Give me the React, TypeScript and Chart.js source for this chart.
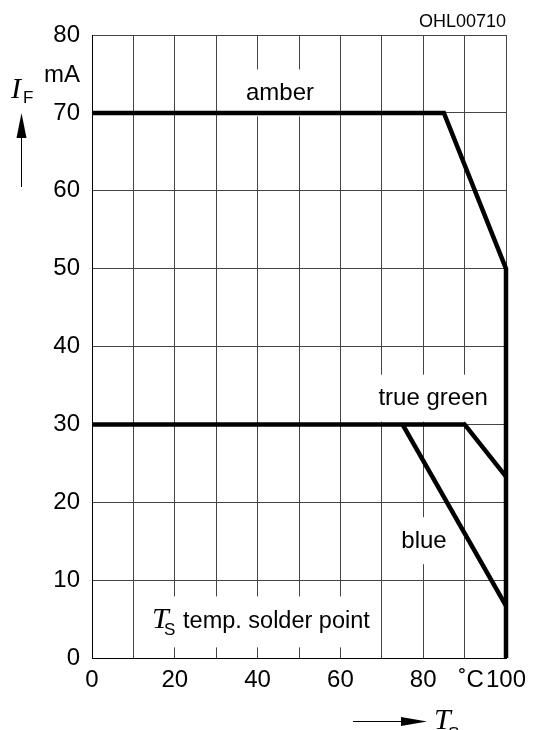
import React, { useEffect, useRef } from 'react';
import { Chart, registerables } from 'chart.js';

Chart.register(...registerables);

// ---- data ----
const amberX = [0, 85, 100, 100];
const amberY = [70, 70, 50, 0];
const greenX = [0, 90, 100];
const greenY = [30, 30, 23.3];
const blueX = [75, 100];
const blueY = [30, 6.7];

const seriesNames = ['amber', 'true green', 'blue'];
const seriesLabelX = [45.4, 82.4, 80.2];
const seriesLabelY = [72.5, 33.3, 15.0];

const xLabelValues = [0, 20, 40, 60, 80, 90, 100];
const xLabelTexts = ['0', '20', '40', '60', '80', '  ˚C', '100'];
const yLabelValues = [0, 10, 20, 30, 40, 50, 60, 70, 80];

const chartCode = 'OHL00710';
const yUnit = 'mA';
const xAxisNote = 'temp. solder point';

const SANS = '"Liberation Sans", Arial, sans-serif';
const SERIF = '"Liberation Serif", "Times New Roman", serif';

const toPoints = (xs: number[], ys: number[]) => xs.map((x, i) => ({ x, y: ys[i] }));

export default function App() {
  const ref = useRef<HTMLCanvasElement | null>(null);

  useEffect(() => {
    if (!ref.current) return;

    const labelsPlugin = {
      id: 'labelsPlugin',
      beforeDatasetsDraw(chart: any) {
        const ctx = chart.ctx as CanvasRenderingContext2D;
        const xs = chart.scales.x;
        const ys = chart.scales.y;
        ctx.save();
        ctx.font = `24px ${SANS}`;
        ctx.textBaseline = 'middle';
        ctx.textAlign = 'center';
        seriesNames.forEach((name, i) => {
          const cx = xs.getPixelForValue(seriesLabelX[i]);
          const cy = ys.getPixelForValue(seriesLabelY[i]);
          const w = ctx.measureText(name).width;
          ctx.fillStyle = '#fff';
          ctx.fillRect(cx - w / 2 - 10, cy - 24, w + 20, 47);
          ctx.fillStyle = '#000';
          ctx.fillText(name, cx, cy);
        });
        // T_S temp. solder point
        const tx = xs.getPixelForValue(14.5);
        const ty = ys.getPixelForValue(3.8);
        ctx.textAlign = 'left';
        ctx.textBaseline = 'alphabetic';
        ctx.font = `23.5px ${SANS}`;
        const noteW = ctx.measureText(xAxisNote).width;
        ctx.fillStyle = '#fff';
        ctx.fillRect(tx - 10, ty - 32, 31 + noteW + 13, 51);
        ctx.fillStyle = '#000';
        ctx.font = `italic 30px ${SERIF}`;
        ctx.fillText('T', tx, ty);
        ctx.font = `17px ${SANS}`;
        ctx.fillText('S', tx + 12, ty + 7);
        ctx.font = `23.5px ${SANS}`;
        ctx.fillText(xAxisNote, tx + 31, ty);
        ctx.restore();
      },
      afterDraw(chart: any) {
        const ctx = chart.ctx as CanvasRenderingContext2D;
        const area = chart.chartArea;
        ctx.save();
        ctx.fillStyle = '#000';
        ctx.strokeStyle = '#000';
        ctx.textBaseline = 'alphabetic';
        // code
        ctx.font = `18px ${SANS}`;
        ctx.textAlign = 'right';
        ctx.fillText(chartCode, area.right, 27);
        // unit
        ctx.font = `24px ${SANS}`;
        ctx.fillText(yUnit, 80, 82);
        // I_F
        ctx.textAlign = 'left';
        ctx.font = `italic 30px ${SERIF}`;
        ctx.fillText('I', 11, 98);
        ctx.font = `17px ${SANS}`;
        ctx.fillText('F', 23, 103);
        // vertical arrow
        ctx.lineWidth = 1;
        ctx.beginPath();
        ctx.moveTo(21.5, 187);
        ctx.lineTo(21.5, 130);
        ctx.stroke();
        ctx.beginPath();
        ctx.moveTo(21.5, 113);
        ctx.lineTo(16.5, 138);
        ctx.lineTo(26.5, 138);
        ctx.closePath();
        ctx.fill();
        // horizontal arrow
        ctx.beginPath();
        ctx.moveTo(353, 721.5);
        ctx.lineTo(410, 721.5);
        ctx.stroke();
        ctx.beginPath();
        ctx.moveTo(427, 721.5);
        ctx.lineTo(401, 717);
        ctx.lineTo(401, 726);
        ctx.closePath();
        ctx.fill();
        // T_S
        ctx.font = `italic 30px ${SERIF}`;
        ctx.fillText('T', 434, 729);
        ctx.font = `17px ${SANS}`;
        ctx.fillText('S', 448, 739);
        ctx.restore();
      },
    };

    const lineStyle = {
      borderColor: '#000',
      borderWidth: 4.5,
      pointRadius: 0,
      fill: false,
      tension: 0,
      clip: false as any,
      borderJoinStyle: 'miter' as const,
      borderCapStyle: 'butt' as const,
    };

    const chart = new Chart(ref.current, {
      type: 'line',
      data: {
        datasets: [
          { label: seriesNames[0], data: toPoints(amberX, amberY), ...lineStyle },
          { label: seriesNames[1], data: toPoints(greenX, greenY), ...lineStyle },
          { label: seriesNames[2], data: toPoints(blueX, blueY), ...lineStyle },
        ],
      },
      options: {
        animation: false,
        responsive: true,
        maintainAspectRatio: false,
        layout: { padding: { top: 35, right: 30, left: 0, bottom: 0 } },
        plugins: { legend: { display: false }, tooltip: { enabled: false } },
        scales: {
          x: {
            type: 'linear',
            min: 0,
            max: 100,
            afterFit: (s: any) => { s.height = 72; },
            afterBuildTicks: (s: any) => {
              s.ticks = [0, 10, 20, 30, 40, 50, 60, 70, 80, 90, 100].map((v) => ({ value: v }));
            },
            grid: { color: '#444', lineWidth: 1, drawTicks: false },
            border: { color: '#000', width: 1 },
            ticks: {
              padding: 8,
              maxRotation: 0,
              autoSkip: false,
              color: '#000',
              font: { family: SANS, size: 24 },
              callback: (v: any) => {
                const i = xLabelValues.indexOf(Number(v));
                return i >= 0 ? xLabelTexts[i] : '';
              },
            },
          },
          y: {
            type: 'linear',
            min: 0,
            max: 80,
            afterFit: (s: any) => { s.width = 92; },
            afterBuildTicks: (s: any) => {
              s.ticks = yLabelValues.map((v) => ({ value: v }));
            },
            grid: { color: '#444', lineWidth: 1, drawTicks: false },
            border: { color: '#000', width: 1 },
            ticks: {
              padding: 12,
              color: '#000',
              font: { family: SANS, size: 24 },
              callback: (v: any) => String(v),
            },
          },
        },
      },
      plugins: [labelsPlugin],
    });
    return () => chart.destroy();
  }, []);

  return (
    <div style={{ position: 'absolute', left: 0, top: 0, width: 536, height: 730, background: '#fff' }}>
      <canvas ref={ref} />
    </div>
  );
}
